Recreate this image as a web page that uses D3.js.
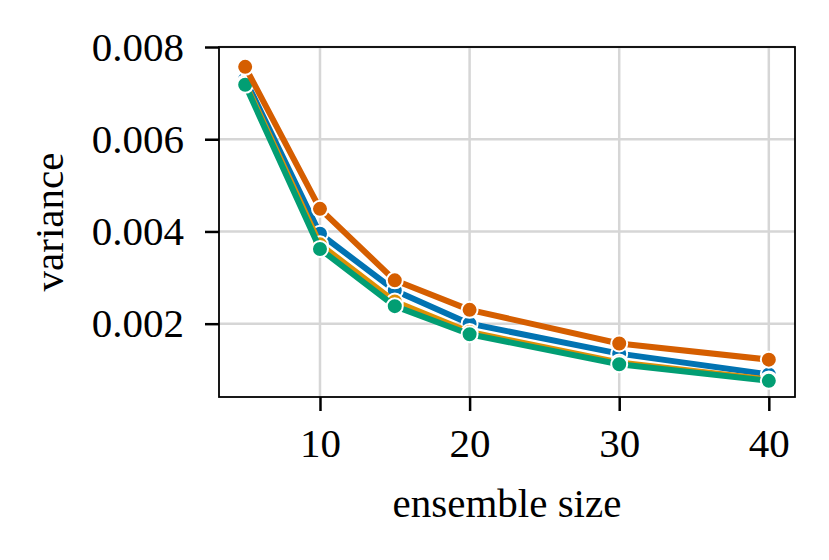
<!DOCTYPE html>
<html><head><meta charset="utf-8">
<script src="https://cdn.jsdelivr.net/npm/d3@7"></script>
<style>body{margin:0;background:#fff}svg{display:block}text{font-family:"Liberation Serif","Times New Roman",serif}</style>
</head><body><svg id="c" width="829" height="560"></svg>
<script>
const ensembleSizes = [5, 10, 15, 20, 30, 40];
const seriesNames = ["blue", "orange", "green", "red"];
const seriesColors = ["#0173b2", "#de8f05", "#029e73", "#d55e00"];
const blueValues = [0.00730, 0.00395, 0.00272, 0.00200, 0.00135, 0.00090];
const orangeValues = [0.00722, 0.00372, 0.00248, 0.00182, 0.00116, 0.00079];
const greenValues = [0.00718, 0.00362, 0.00238, 0.00177, 0.00112, 0.00076];
const redValues = [0.00757, 0.00449, 0.00294, 0.00230, 0.00157, 0.00122];
const xTicks = [10, 20, 30, 40];
const yTicks = [0.002, 0.004, 0.006, 0.008];
const allValues = [blueValues, orangeValues, greenValues, redValues];

const svg = d3.select("#c");
const m = {l: 219, r: 795, t: 47, b: 397};
const x = d3.scaleLinear().domain([3.25, 41.75]).range([m.l, m.r]);
const y = d3.scaleLinear().domain([0.00041, 0.0080]).range([m.b, m.t]);

// grid
svg.append("g").selectAll("line").data(xTicks).join("line")
  .attr("x1", d => x(d)).attr("x2", d => x(d)).attr("y1", m.t).attr("y2", m.b)
  .attr("stroke", "#d6d6d6").attr("stroke-width", 2.5);
svg.append("g").selectAll("line").data(yTicks).join("line")
  .attr("x1", m.l).attr("x2", m.r).attr("y1", d => y(d)).attr("y2", d => y(d))
  .attr("stroke", "#d6d6d6").attr("stroke-width", 2.5);

const line = d3.line().x((d, i) => x(ensembleSizes[i])).y(d => y(d));
seriesNames.forEach((name, k) => {
  const g = svg.append("g");
  g.append("path").datum(allValues[k]).attr("d", line)
    .attr("fill", "none").attr("stroke", seriesColors[k]).attr("stroke-width", 6)
    .attr("stroke-linejoin", "round").attr("stroke-linecap", "butt");
  g.selectAll("circle").data(allValues[k]).join("circle")
    .attr("cx", (d, i) => x(ensembleSizes[i])).attr("cy", d => y(d)).attr("r", 8)
    .attr("fill", seriesColors[k]).attr("stroke", "#fff").attr("stroke-width", 2);
});

// axes
const xa = svg.append("g").attr("transform", `translate(0,${m.b})`)
  .call(d3.axisBottom(x).tickValues(xTicks).tickSize(14).tickPadding(17).tickFormat(d3.format("d")));
const ya = svg.append("g").attr("transform", `translate(${m.l},0)`)
  .call(d3.axisLeft(y).tickValues(yTicks).tickSize(14).tickPadding(21).tickFormat(d3.format(".3f")));
[xa, ya].forEach(a => {
  a.select(".domain").remove();
  a.selectAll(".tick line").attr("stroke", "#000").attr("stroke-width", 2.5);
  a.selectAll(".tick text").attr("font-size", 41).attr("fill", "#000")
    .attr("font-family", "Liberation Serif, Times New Roman, serif");
});
svg.append("rect").attr("x", m.l).attr("y", m.t).attr("width", m.r - m.l).attr("height", m.b - m.t)
  .attr("fill", "none").attr("stroke", "#000").attr("stroke-width", 1.8);

svg.append("text").attr("x", (m.l + m.r) / 2).attr("y", 517).attr("text-anchor", "middle")
  .attr("font-size", 41).text("ensemble size");
svg.append("text").attr("transform", `translate(63,${(m.t + m.b) / 2}) rotate(-90)`)
  .attr("text-anchor", "middle").attr("font-size", 41).text("variance");
</script></body></html>
